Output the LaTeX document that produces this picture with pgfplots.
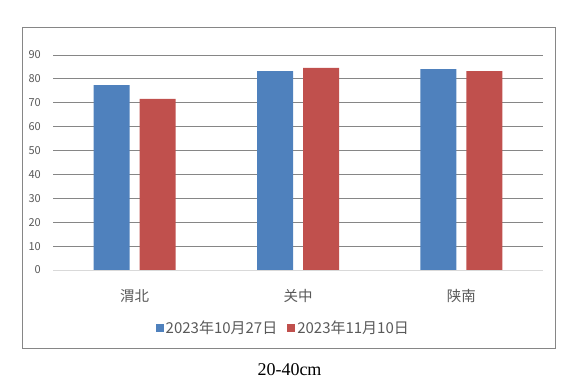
\documentclass[border=0pt]{standalone}
\usepackage{fontspec}
\setmainfont{Liberation Serif}
\newfontfamily\cjk{Noto Sans CJK SC}
\usepackage{pgfplots}
\pgfplotsset{compat=1.18}
\definecolor{barblue}{HTML}{4F81BD}
\definecolor{barred}{HTML}{C0504D}
\definecolor{gridgray}{HTML}{868686}
\definecolor{zerogray}{HTML}{D9D9D9}
\definecolor{labelgray}{HTML}{595959}
\begin{document}
\begin{tikzpicture}
\path[use as bounding box] (0,0) rectangle (578bp,383bp);
\draw[color=gridgray, line width=1bp] (22.5bp,355.5bp) rectangle (555bp,34.5bp);
\begin{axis}[
  at={(53bp,113bp)}, anchor=south west,
  scale only axis, width=490bp, height=215bp,
  xmin=-0.5, xmax=2.5, ymin=0, ymax=90,
  ybar=10bp, bar width=36bp,
  xtick={0,1,2}, xticklabels={渭北,关中,陕南},
  ytick={10,20,...,90},
  extra y ticks={0},
  extra y tick style={ymajorgrids=true, grid style={color=zerogray, line width=1bp}},
  ymajorgrids, grid style={color=gridgray, line width=1bp},
  major tick length=0,
  axis line style={draw=none},
  /pgf/number format/assume math mode=true,
  tick label style={font=\cjk\fontsize{11bp}{13bp}\selectfont, text=labelgray},
  xticklabel style={font=\cjk\fontsize{14.5bp}{16bp}\selectfont, anchor=center, inner sep=0pt, yshift=-26bp},
  yticklabel style={anchor=east, inner sep=0pt, xshift=-12bp},
  legend style={at={(0.47,-0.27)}, anchor=center, draw=none, fill=none,
    font=\cjk\fontsize{15bp}{17bp}\selectfont, text=labelgray,
    legend columns=2,
    /tikz/every even column/.append style={column sep=8bp}},
  legend image code/.code={\fill[#1] (0bp,-4bp) rectangle (8bp,4bp);},
]
\addplot[fill=barblue, draw=none] coordinates {(0,77.4) (1,83.3) (2,84.1)};
\addplot[fill=barred, draw=none] coordinates {(0,71.6) (1,84.6) (2,83.3)};
\legend{2023年10月27日, 2023年11月10日}
\end{axis}
\node[font=\fontsize{18bp}{20bp}\selectfont] at (289.5bp, 13bp) {20-40cm};
\end{tikzpicture}
\end{document}
